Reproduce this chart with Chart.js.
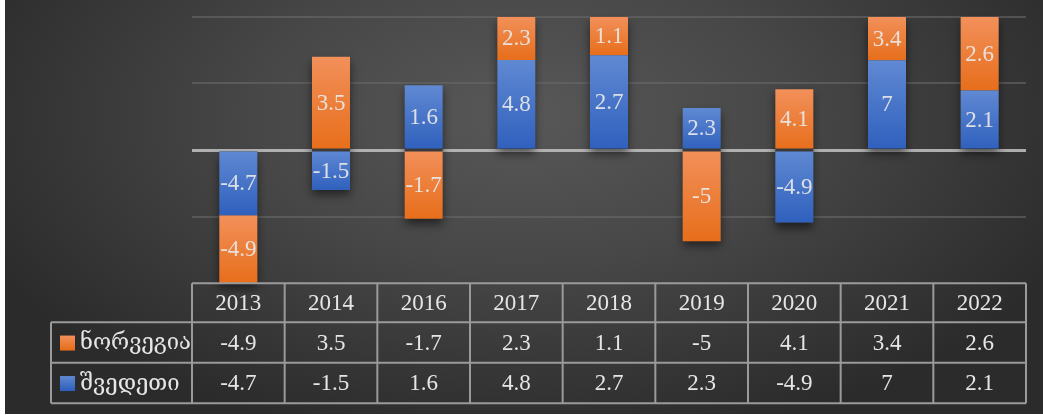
<!DOCTYPE html>
<html>
<head>
<meta charset="utf-8">
<script src="https://cdn.jsdelivr.net/npm/chart.js@4.4.1/dist/chart.umd.min.js"></script>
<style>
  html, body { margin: 0; padding: 0; background: #ffffff; }
  #wrap {
    position: absolute; left: 5px; top: 0; width: 1038px; height: 414px;
    background: radial-gradient(ellipse 58% 80% at 50% 28%, #585858 0%, #474747 45%, #2b2b2b 100%);
  }
  canvas { display: block; }
</style>
</head>
<body>
<div id="wrap"><canvas id="c" width="1038" height="414"></canvas></div>
<script>
// ---- data ----
const categories = ['2013', '2014', '2016', '2017', '2018', '2019', '2020', '2021', '2022'];
const seriesNames = ['ნორვეგია', 'შვედეთი'];
const norway = [-4.9, 3.5, -1.7, 2.3, 1.1, -5, 4.1, 3.4, 2.6];
const sweden = [-4.7, -1.5, 1.6, 4.8, 2.7, 2.3, -4.9, 7, 2.1];
const yTicks = [-100, -50, 0, 50, 100];

// 100% stacked (share of absolute total), as the original chart
const total = norway.map((v, i) => Math.abs(v) + Math.abs(sweden[i]));
const norwayPct = norway.map((v, i) => v / total[i] * 100);
const swedenPct = sweden.map((v, i) => v / total[i] * 100);

const SERIF = "'Liberation Serif', 'DejaVu Serif', serif";
const ORANGE = ['#F2905A', '#E76E1B'];
const BLUE = ['#6089D3', '#2F60BD'];

function segRange(dsIndex, i) {
  if (dsIndex === 0) return [0, swedenPct[i]];
  const s = swedenPct[i], n = norwayPct[i];
  if ((s >= 0) === (n >= 0)) return [s, s + n];
  return [0, n];
}
function gradFor(cols) {
  return function (ctx) {
    const chart = ctx.chart, y = chart.scales.y;
    if (!y || ctx.dataIndex === undefined) return cols[1];
    const r = segRange(ctx.datasetIndex, ctx.dataIndex);
    const p1 = y.getPixelForValue(Math.max(r[0], r[1]));
    const p2 = y.getPixelForValue(Math.min(r[0], r[1]));
    if (!isFinite(p1) || !isFinite(p2) || p1 === p2) return cols[1];
    const g = chart.ctx.createLinearGradient(0, p1, 0, p2);
    g.addColorStop(0, cols[0]);
    g.addColorStop(1, cols[1]);
    return g;
  };
}

const shadowPlugin = {
  id: 'barShadow',
  beforeDatasetsDraw(chart) {
    const ctx = chart.ctx, a = chart.chartArea;
    const m0 = chart.getDatasetMeta(0).data, m1 = chart.getDatasetMeta(1).data;
    ctx.save();
    ctx.beginPath();
    ctx.rect(a.left, a.top - 2, a.right - a.left, a.bottom - a.top + 12);
    ctx.clip();
    ctx.shadowColor = 'rgba(0,0,0,0.55)';
    ctx.shadowBlur = 9;
    ctx.shadowOffsetY = 5;
    ctx.fillStyle = '#3a3a3a';
    m0.forEach((b, i) => {
      const c = m1[i];
      const top = Math.max(a.top, Math.min(b.y, b.base, c.y, c.base));
      const bot = Math.min(a.bottom, Math.max(b.y, b.base, c.y, c.base));
      ctx.fillRect(b.x - b.width / 2, top, b.width, bot - top);
    });
    ctx.restore();
  }
};

const labelPlugin = {
  id: 'segLabels',
  afterDatasetsDraw(chart) {
    const ctx = chart.ctx;
    ctx.save();
    ctx.font = '23px ' + SERIF;
    ctx.fillStyle = 'rgba(232,232,232,0.92)';
    ctx.textAlign = 'center';
    ctx.textBaseline = 'middle';
    const raw = [sweden, norway];
    [0, 1].forEach(d => {
      chart.getDatasetMeta(d).data.forEach((el, i) => {
        const yc = (el.y + el.base) / 2;
        ctx.fillText(String(raw[d][i]), el.x, yc + 1);
      });
    });
    ctx.restore();
  }
};

const tablePlugin = {
  id: 'dataTable',
  afterDraw(chart) {
    const ctx = chart.ctx, a = chart.chartArea;
    const n = categories.length;
    const cw = (a.right - a.left) / n;
    const r0 = a.bottom, r1 = r0 + 39, r2 = r1 + 40.5, r3 = r2 + 40.5;
    const legL = 46;
    ctx.save();
    ctx.strokeStyle = '#9a9a9a';
    ctx.lineWidth = 2;
    ctx.beginPath();
    ctx.moveTo(a.left, r0); ctx.lineTo(a.right, r0);
    [r1, r2, r3].forEach(r => { ctx.moveTo(legL, r); ctx.lineTo(a.right, r); });
    for (let k = 0; k <= n; k++) {
      const x = a.left + k * cw;
      ctx.moveTo(x, r0); ctx.lineTo(x, r3);
    }
    ctx.moveTo(legL, r1); ctx.lineTo(legL, r3);
    ctx.stroke();

    ctx.fillStyle = '#e6e6e6';
    ctx.font = '23px ' + SERIF;
    ctx.textAlign = 'center';
    ctx.textBaseline = 'middle';
    const rows = [norway, sweden];
    categories.forEach((c, k) => {
      const x = chart.scales.x.getPixelForValue(k);
      ctx.fillText(c, x, (r0 + r1) / 2 + 1);
      ctx.fillText(String(rows[0][k]), x, (r1 + r2) / 2 + 1);
      ctx.fillText(String(rows[1][k]), x, (r2 + r3) / 2 + 1);
    });
    // legend keys
    const keyCols = [ORANGE, BLUE];
    ctx.font = '22px ' + SERIF;
    [[r1, r2], [r2, r3]].forEach((rr, j) => {
      const yc = (rr[0] + rr[1]) / 2;
      const g = ctx.createLinearGradient(0, yc - 7, 0, yc + 7);
      g.addColorStop(0, keyCols[j][0]); g.addColorStop(1, keyCols[j][1]);
      ctx.fillStyle = g;
      ctx.fillRect(55, yc - 7, 15, 15);
      ctx.fillStyle = '#e6e6e6';
      ctx.textAlign = 'left';
      ctx.fillText(seriesNames[j], 75, yc + 1);
    });
    ctx.restore();
  }
};

new Chart(document.getElementById('c'), {
  type: 'bar',
  data: {
    labels: categories,
    datasets: [
      { label: seriesNames[1], data: swedenPct, backgroundColor: gradFor(BLUE), stack: 's' },
      { label: seriesNames[0], data: norwayPct, backgroundColor: gradFor(ORANGE), stack: 's' }
    ]
  },
  options: {
    responsive: false,
    animation: false,
    events: [],
    layout: { padding: { left: 187, right: 17, top: 16.7, bottom: 130.7 } },
    datasets: { bar: { categoryPercentage: 1, barPercentage: 0.41, borderWidth: 0 } },
    plugins: { legend: { display: false }, tooltip: { enabled: false } },
    scales: {
      x: { stacked: true, display: false },
      y: {
        stacked: true, min: yTicks[0], max: yTicks[yTicks.length - 1],
        afterBuildTicks: s => { s.ticks = yTicks.map(v => ({ value: v })); },
        afterFit: s => { s.width = 0; },
        ticks: { display: false },
        border: { display: false },
        grid: {
          drawTicks: false,
          color: c => c.tick.value === 0 ? 'rgba(195,195,195,0.85)' : (c.tick.value === -100 ? 'rgba(0,0,0,0)' : 'rgba(105,105,105,0.6)'),
          lineWidth: c => c.tick.value === 0 ? 3 : 2
        }
      }
    }
  },
  plugins: [shadowPlugin, labelPlugin, tablePlugin]
});
</script>
</body>
</html>
